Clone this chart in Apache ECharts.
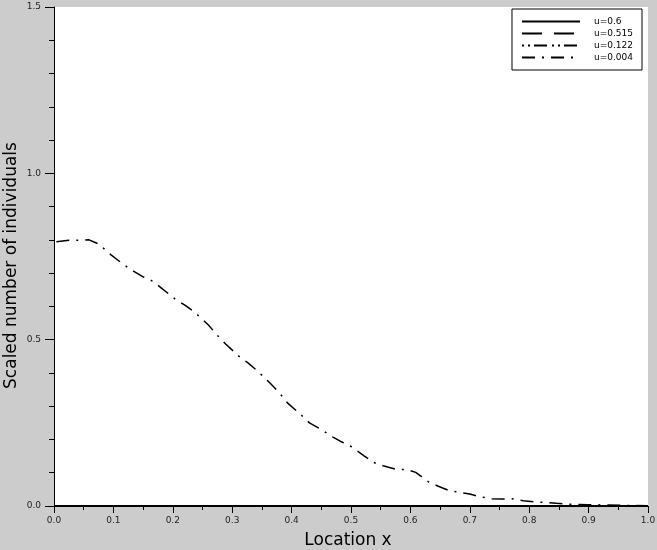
<!DOCTYPE html>
<html>
<head>
<meta charset="utf-8">
<script src="https://cdn.jsdelivr.net/npm/echarts@6/dist/echarts.min.js"></script>
<style>
html,body{margin:0;padding:0;background:#cccccc;}
#c{width:657px;height:550px;}
</style>
</head>
<body>
<div id="c"></div>
<script>
// Data
const seriesNames = ["u=0.6", "u=0.515", "u=0.122", "u=0.004"];
const xFlat = [0, 0.1, 0.2, 0.3, 0.4, 0.5, 0.6, 0.7, 0.8, 0.9, 1.0];
const yU06 = [0, 0, 0, 0, 0, 0, 0, 0, 0, 0, 0];
const yU0515 = [0, 0, 0, 0, 0, 0, 0, 0, 0, 0, 0];
const yU0122 = [0, 0, 0, 0, 0, 0, 0, 0, 0, 0, 0];
const xU0004 = [0.004, 0.025, 0.045, 0.059, 0.075, 0.096, 0.112, 0.128, 0.150, 0.167,
  0.183, 0.204, 0.221, 0.237, 0.260, 0.274, 0.289, 0.310, 0.326, 0.342,
  0.364, 0.379, 0.393, 0.414, 0.430, 0.447, 0.469, 0.484, 0.501, 0.522,
  0.538, 0.554, 0.576, 0.593, 0.609, 0.630, 0.646, 0.663, 0.684, 0.700,
  0.716, 0.737, 0.754, 0.771, 0.790, 0.807, 0.824, 0.846, 0.870, 0.900,
  0.930, 0.960, 1.000];
const yU0004 = [0.794, 0.799, 0.799, 0.800, 0.788, 0.755, 0.733, 0.712, 0.689, 0.675,
  0.652, 0.622, 0.603, 0.582, 0.544, 0.515, 0.487, 0.452, 0.431, 0.407,
  0.369, 0.341, 0.310, 0.277, 0.250, 0.233, 0.208, 0.193, 0.178, 0.151,
  0.131, 0.121, 0.110, 0.110, 0.101, 0.073, 0.060, 0.048, 0.040, 0.036,
  0.028, 0.022, 0.021, 0.022, 0.016, 0.013, 0.011, 0.008, 0.005, 0.004,
  0.003, 0.002, 0.001];
const xTickLabels = ["0.0","0.1","0.2","0.3","0.4","0.5","0.6","0.7","0.8","0.9","1.0"];
const yTickLabels = ["0.0","0.5","1.0","1.5"];

function pairs(xs, ys) { return xs.map((x, i) => [x, ys[i]]); }

const font = "DejaVu Sans";
const chart = echarts.init(document.getElementById('c'), null, {renderer: 'canvas'});
const styles = [
  {type: 'solid', width: 2},
  {type: [20, 12], width: 2},
  {type: [2, 4, 2, 4, 13, 5], width: 2},
  {type: [13, 7, 2, 7], width: 1.5}
];
const datas = [pairs(xFlat, yU06), pairs(xFlat, yU0515), pairs(xFlat, yU0122), pairs(xU0004, yU0004)];

chart.setOption({
  backgroundColor: '#cccccc',
  animation: false,
  grid: {left: 54, right: 9, top: 7, bottom: 44, show: true, backgroundColor: '#ffffff', borderWidth: 0,
    outerBoundsMode: 'none', containLabel: false},
  legend: {
    orient: 'vertical', right: 15, top: 9,
    backgroundColor: '#ffffff', borderColor: '#000000', borderWidth: 1, borderRadius: 0,
    padding: [8, 9, 8, 9], itemWidth: 58, itemHeight: 10, itemGap: 3,
    itemStyle: {opacity: 0},
    textStyle: {fontFamily: font, fontSize: 9, color: '#000', padding: [0, 0, 0, 9]},
    data: seriesNames
  },
  xAxis: {
    type: 'value', min: 0, max: 1, interval: 0.1,
    name: 'Location x', nameLocation: 'middle', nameGap: 26, nameMoveOverlap: false,
    nameTextStyle: {fontFamily: font, fontSize: 17, color: '#000', padding: [0, 6, 0, 0]},
    axisLine: {lineStyle: {color: '#000', width: 1}},
    axisTick: {length: 7, lineStyle: {color: '#000'}},
    minorTick: {show: true, splitNumber: 2, length: 4, lineStyle: {color: '#000'}},
    splitLine: {show: false},
    axisLabel: {fontFamily: font, fontSize: 9, color: '#222', margin: 10,
      formatter: v => xTickLabels[Math.round(v * 10)]}
  },
  yAxis: {
    type: 'value', min: 0, max: 1.5, interval: 0.5,
    name: 'Scaled number of individuals', nameLocation: 'middle', nameGap: 34, nameMoveOverlap: false,
    nameTextStyle: {fontFamily: font, fontSize: 17, color: '#000', padding: [0, 18, 0, 0]},
    axisLine: {show: true, lineStyle: {color: '#000', width: 1}},
    axisTick: {show: true, length: 9, lineStyle: {color: '#000'}},
    minorTick: {show: true, splitNumber: 5, length: 5, lineStyle: {color: '#000'}},
    splitLine: {show: false},
    axisLabel: {fontFamily: font, fontSize: 9, color: '#222', margin: 13,
      formatter: v => yTickLabels[Math.round(v * 2)]}
  },
  series: seriesNames.map((n, i) => ({
    name: n, type: 'line', data: datas[i], symbol: 'none', smooth: false,
    lineStyle: Object.assign({color: '#000'}, styles[i]),
    itemStyle: {color: '#000'}
  }))
});
</script>
</body>
</html>
